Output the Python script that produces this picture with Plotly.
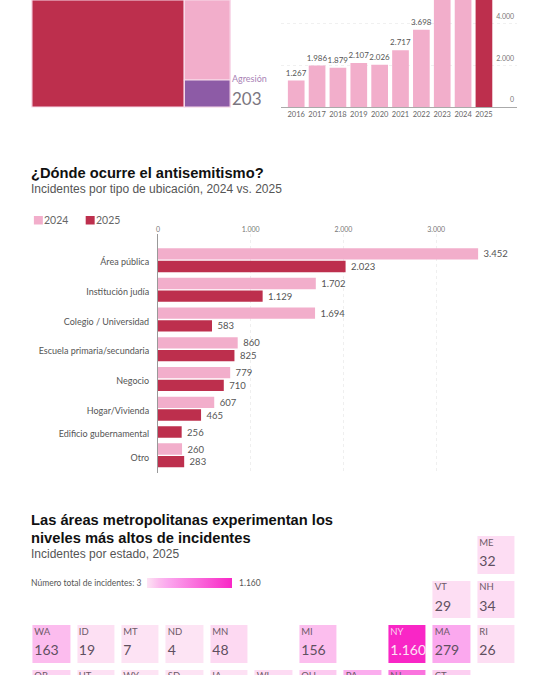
import plotly.graph_objects as go

W, H = 546, 675
LABEL_FONT = "Lato, Liberation Sans, sans-serif"
SANS = "Liberation Sans, Arial, sans-serif"
PINK, RED, PURPLE = "#f2aecb", "#bd2f4d", "#8d5ba6"

# Top treemap: the reference's tiles run off the top of the page; only Agresion's value is printed.
TREE_LABELS = ["Acoso", "Otros", "Vandalismo", "Agresión"]
TREE_PARENTS = ["", "", "Otros", "Otros"]
TREE_VALUES = [2676, 804, 601, 203]
TREE_COLORS = [RED, PINK, PINK, PURPLE]

# Yearly columns. 2023-2025 run off the page, so those three are rough estimates.
YEARS = ["2016", "2017", "2018", "2019", "2020", "2021", "2022", "2023", "2024", "2025"]
YEAR_VALUES = [1267, 1986, 1879, 2107, 2026, 2717, 3698, 7523, 9354, 6000]
YEAR_LABELLED = [True, True, True, True, True, True, True, False, False, False]
HIGHLIGHT_YEAR = "2025"

# Locations
PLACES = ["Área pública", "Institución judía", "Colegio / Universidad",
          "Escuela primaria/secundaria", "Negocio", "Hogar/Vivienda",
          "Edificio gubernamental", "Otro"]
V2024 = [3452, 1702, 1694, 860, 779, 607, None, 260]
V2025 = [2023, 1129, 583, 825, 710, 465, 256, 283]

# State tile grid (row by row, "" = empty cell). The last row's numbers are off the page: estimates,
# used only for the tile colour and not printed.
TILE_ROWS = [
    ["", "", "", "", "", "", "", "", "", "", "ME"],
    ["", "", "", "", "", "", "", "", "", "VT", "NH"],
    ["WA", "ID", "MT", "ND", "MN", "", "MI", "", "NY", "MA", "RI"],
    ["OR", "UT", "WY", "SD", "IA", "WI", "OH", "PA", "NJ", "CT", ""],
]
STATE_VALUES = {"ME": 32, "VT": 29, "NH": 34, "WA": 163, "ID": 19, "MT": 7, "ND": 4, "MN": 48,
                "MI": 156, "NY": 1160, "MA": 279, "RI": 26, "OR": 70, "UT": 15, "WY": 5,
                "SD": 6, "IA": 15, "WI": 40, "OH": 110, "PA": 250, "NJ": 640, "CT": 90}
LAST_PRINTED_ROW = 2
MIN_INC, MAX_INC = 3, 1160


def fx(p):
    return p / W


def fy(p):
    return 1 - p / H


def dotted(v):
    return f"{v:,}".replace(",", ".")


fig = go.Figure()

# --- Treemap
fig.add_trace(go.Treemap(
    ids=TREE_LABELS, labels=TREE_LABELS, parents=TREE_PARENTS, values=TREE_VALUES,
    branchvalues="total", sort=False, textinfo="none", hoverinfo="label",
    marker=dict(colors=TREE_COLORS, line=dict(color="#f8dcea", width=1.2), pad=dict(t=0, l=0, r=0, b=0)),
    tiling=dict(packing="slice-dice", pad=0), pathbar=dict(visible=False),
    domain=dict(x=[fx(30), fx(229)], y=[fy(107), 1]),
))

# --- Yearly columns
fig.add_trace(go.Bar(
    x=YEARS, y=YEAR_VALUES, xaxis="x", yaxis="y", width=0.8, showlegend=False,
    marker=dict(color=[RED if y == HIGHLIGHT_YEAR else PINK for y in YEARS], line_width=0),
    text=[dotted(v) if s else "" for v, s in zip(YEAR_VALUES, YEAR_LABELLED)],
    textposition="outside", constraintext="none",
    textfont=dict(family=LABEL_FONT, size=8, color="#555"), cliponaxis=True,
))

# --- Location bars: positions follow from which bars each place has
STEP, GAP = 12.7, 4.3
pos24, pos25, val24, val25, group_centres = [], [], [], [], []
cursor = 0.0
for a, b in zip(V2024, V2025):
    first = cursor
    if a is not None:
        pos24.append(cursor)
        val24.append(a)
        cursor += STEP
    pos25.append(cursor)
    val25.append(b)
    group_centres.append((first + cursor) / 2)
    cursor += STEP + GAP

for name, pos, vals, col in (("2024", pos24, val24, PINK), ("2025", pos25, val25, RED)):
    fig.add_trace(go.Bar(
        name=name, y=pos, x=vals, orientation="h", xaxis="x2", yaxis="y2", width=11.3,
        showlegend=False, marker=dict(color=col, line_width=0),
        text=["\u00a0" + dotted(v) for v in vals], textposition="outside", constraintext="none",
        textfont=dict(family=LABEL_FONT, size=9.5, color="#555"), cliponaxis=False,
    ))

# --- State tiles
z, t_x, t_y, t_abbr, t_abbr_col = [], [], [], [], []
v_x, v_y, v_txt, v_col = [], [], [], []
for r, row in enumerate(TILE_ROWS):
    z.append([STATE_VALUES.get(s) for s in row])
    for c, s in enumerate(row):
        if s:
            light = STATE_VALUES[s] > 800
            t_x.append(c - 0.39)
            t_y.append(r - 0.27)
            t_abbr.append(s)
            t_abbr_col.append("#fbd0ef" if light else "#6d5a68")
            if r <= LAST_PRINTED_ROW:
                v_x.append(c - 0.39)
                v_y.append(r + 0.17)
                v_txt.append(dotted(STATE_VALUES[s]))
                v_col.append("#fde3f5" if light else "#5f5060")

fig.add_trace(go.Heatmap(
    z=z, xaxis="x3", yaxis="y3", xgap=7, ygap=7, coloraxis="coloraxis", hoverongaps=False,
))
fig.add_trace(go.Scatter(
    x=t_x, y=t_y, text=t_abbr, mode="text", textposition="middle right",
    textfont=dict(family=LABEL_FONT, size=9.5, color=t_abbr_col), xaxis="x3", yaxis="y3",
    showlegend=False, hoverinfo="skip",
))
fig.add_trace(go.Scatter(
    x=v_x, y=v_y, text=v_txt, mode="text", textposition="middle right",
    textfont=dict(family=LABEL_FONT, size=14, color=v_col), xaxis="x3", yaxis="y3",
    showlegend=False, hoverinfo="skip",
))


def text(x, y, s, size, color, family=SANS, anchor="left", weight=None):
    fig.add_annotation(
        xref="paper", yref="paper", x=fx(x - 2.5), y=fy(y), text=s, showarrow=False, xanchor=anchor,
        yanchor="middle", align=anchor, borderpad=0,
        font=dict(family=family, size=size, color=color, weight=weight),
    )


text(232, 78.5, "Agresión", 9, "#a983b5", LABEL_FONT)
text(232, 98, "203", 17, "#7b7680", LABEL_FONT)
text(31, 173, "¿Dónde ocurre el antisemitismo?", 14.7, "#111", SANS, weight=700)
text(31, 188.5, "Incidentes por tipo de ubicación, 2024 vs. 2025", 12, "#555")
text(31, 520, "Las áreas metropolitanas experimentan los", 14.7, "#111", SANS, weight=700)
text(31, 538, "niveles más altos de incidentes", 14.7, "#111", SANS, weight=700)
text(31, 554, "Incidentes por estado, 2025", 12, "#555")
text(31, 583, "Número total de incidentes: 3", 8.5, "#555", LABEL_FONT)
text(239, 583, dotted(MAX_INC), 8.5, "#555", LABEL_FONT)
for sx, name, col in ((32, "2024", PINK), (84, "2025", RED)):
    fig.add_shape(type="rect", xref="paper", yref="paper", x0=fx(sx), x1=fx(sx + 9),
                  y0=fy(224.5), y1=fy(216), fillcolor=col, line_width=0)
    text(sx + 12, 220, name, 10.5, "#666", LABEL_FONT)

PITCH_X, PITCH_Y = 44.66, 44.5
fig.update_layout(
    width=W, height=H, margin=dict(l=0, r=0, t=0, b=0), paper_bgcolor="white", plot_bgcolor="white",
    separators=",.", showlegend=False, barmode="overlay",
    xaxis=dict(domain=[fx(279.7), fx(517)], range=[-0.745, 10.59], type="category",
               categoryorder="array", categoryarray=YEARS, anchor="y", showgrid=False, ticks="",
               showline=True, linecolor="#aaa", linewidth=1, tickangle=0,
               tickfont=dict(family=LABEL_FONT, size=7.5, color="#666")),
    yaxis=dict(domain=[fy(107), 1], range=[0, 5120], side="right", anchor="x",
               tickvals=[0, 2000, 4000], tickformat=",d", ticklabelposition="inside",
               ticklabelshift=-7, showgrid=True, griddash="dot", gridcolor="#f0f0f0", zeroline=False,
               tickfont=dict(family=LABEL_FONT, size=7, color="#777")),
    xaxis2=dict(domain=[fx(156.5), fx(510)], range=[0, 3797], side="top", anchor="y2",
                tickvals=[0, 1000, 2000, 3000], tickformat=",d", showgrid=True, griddash="dot",
                gridcolor="#efefef", zeroline=False, ticks="",
                tickfont=dict(family=LABEL_FONT, size=7, color="#777")),
    yaxis2=dict(domain=[fy(473), fy(234)], range=[219.2, -19.8], anchor="x2", showgrid=False,
                zeroline=False, showline=True, linecolor="#999", linewidth=1, ticks="",
                tickvals=group_centres, ticktext=PLACES, ticklabelstandoff=6, ticklabelshift=-2,
                tickfont=dict(family=LABEL_FONT, size=9, color="#555")),
    xaxis3=dict(domain=[fx(27.5), fx(27.5 + PITCH_X * 11)], range=[-0.5, 10.5], anchor="y3",
                visible=False),
    yaxis3=dict(domain=[0, fy(533)], range=[(H - 533) / PITCH_Y - 0.5, -0.5], anchor="x3",
                visible=False),
    coloraxis=dict(
        cmin=MIN_INC, cmax=MAX_INC,
        colorscale=[[0, "#fde4f4"], [0.14, "#fcbcee"], [0.24, "#fba8ee"], [1, "#f926c6"]],
        colorbar=dict(orientation="h", x=fx(146), xanchor="left", y=fy(588), yanchor="bottom",
                      lenmode="pixels", len=85, thicknessmode="pixels", thickness=10,
                      outlinewidth=0, ticks="", showticklabels=False, xpad=0, ypad=0),
    ),
)

fig.write_html("out.html", config={"displayModeBar": False},
               post_script="document.body.style.margin='0';")
